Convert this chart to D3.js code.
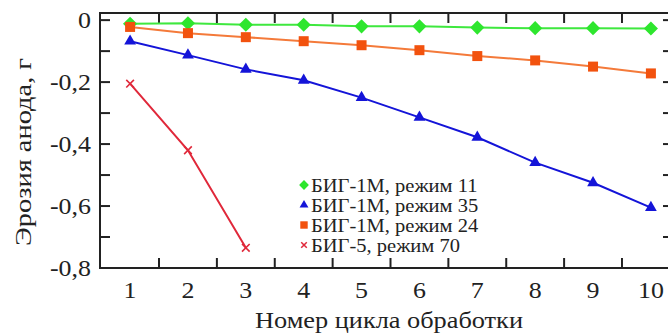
<!DOCTYPE html>
<html>
<head>
<meta charset="utf-8">
<script src="https://cdn.jsdelivr.net/npm/d3@7"></script>
<style>
  body { margin: 0; background: #fff; }
  svg { display: block; }
</style>
</head>
<body>
<svg id="chart"></svg>
<script>
// Данные графика
const cycles = [1, 2, 3, 4, 5, 6, 7, 8, 9, 10];
const mode11 = [-0.012, -0.01, -0.015, -0.015, -0.02, -0.02, -0.024, -0.026, -0.026, -0.027];
const mode35 = [-0.068, -0.113, -0.159, -0.194, -0.25, -0.314, -0.378, -0.46, -0.525, -0.605];
const mode24 = [-0.022, -0.042, -0.055, -0.068, -0.081, -0.097, -0.116, -0.13, -0.15, -0.172];
const mode70 = [-0.205, -0.42, -0.735];
const yTicks = [0, -0.2, -0.4, -0.6, -0.8];
const seriesNames = ["БИГ-1М, режим 11", "БИГ-1М, режим 35", "БИГ-1М, режим 24", "БИГ-5, режим 70"];

const width = 668, height = 335;
const margin = {top: 13, right: -2, bottom: 67, left: 100};

// ромб = повернутый квадрат
const series = [
  {name: seriesNames[0], values: mode11, color: "#2ee62e", line: "#3ee83e", shape: d3.symbolSquare, rot: 45, size: 100, lsize: 48},
  {name: seriesNames[1], values: mode35, color: "#1414d8", line: "#1414d8", shape: d3.symbolTriangle, rot: 0, size: 60, lsize: 34},
  {name: seriesNames[2], values: mode24, color: "#f2520e", line: "#f47a3a", shape: d3.symbolSquare, rot: 0, size: 100, lsize: 55},
  {name: seriesNames[3], values: mode70, color: "#e0283a", line: "#e0283a", shape: d3.symbolTimes, rot: 0, size: 40, lsize: 22}
];

const svg = d3.select("#chart")
  .attr("width", width)
  .attr("height", height)
  .style("font-family", "'Liberation Serif', 'Times New Roman', serif");

const x = d3.scaleLinear()
  .domain([0.48, 10.33])
  .range([margin.left, width - margin.right]);

const y = d3.scaleLinear()
  .domain([0.023, -0.8])
  .range([margin.top, height - margin.bottom]);

const axisColor = "#222";
const x0 = x.range()[0], x1 = x.range()[1];
const y0 = y.range()[0], y1 = y.range()[1];

// рамка
const frame = svg.append("g").attr("stroke", axisColor).attr("stroke-width", 2).attr("fill", "none");
frame.append("line").attr("x1", x0).attr("x2", x0).attr("y1", y0 - 1).attr("y2", y1 + 1);
frame.append("line").attr("x1", x0).attr("x2", x1).attr("y1", y1).attr("y2", y1);
frame.append("line").attr("x1", x0).attr("x2", x1).attr("y1", y0).attr("y2", y0);
frame.append("line").attr("x1", x1).attr("x2", x1).attr("y1", y0).attr("y2", y1);

// засечки по y (каждые 0,1)
const yMinor = d3.range(0, -0.81, -0.1);
frame.selectAll(".ty")
  .data(yMinor)
  .join("g")
  .call(g => g.append("line").attr("x1", x0).attr("x2", x0 + 10).attr("y1", d => y(d)).attr("y2", d => y(d)))
  .call(g => g.append("line").attr("x1", x1).attr("x2", x1 - 7).attr("y1", d => y(d)).attr("y2", d => y(d)));

// засечки по x между номерами циклов
const xBetween = cycles.slice(0, -1).map(c => c + 0.5);
frame.selectAll(".tx")
  .data(xBetween)
  .join("g")
  .call(g => g.append("line").attr("x1", d => x(d)).attr("x2", d => x(d)).attr("y1", y1).attr("y2", y1 - 10))
  .call(g => g.append("line").attr("x1", d => x(d)).attr("x2", d => x(d)).attr("y1", y0).attr("y2", y0 + 10));

// подписи осей
const fmt = d => d === 0 ? "0" : d3.format(".1f")(d).replace(".", ",").replace("\u2212", "-");
svg.append("g")
  .attr("font-size", 24)
  .attr("fill", "#222")
  .attr("text-anchor", "end")
  .selectAll("text")
  .data(yTicks)
  .join("text")
  .attr("transform", d => `translate(${x0 - 9},${y(d)}) scale(1.08,1)`)
  .attr("dy", "0.33em")
  .text(fmt);

svg.append("g")
  .attr("font-size", 24)
  .attr("fill", "#222")
  .attr("text-anchor", "middle")
  .selectAll("text")
  .data(cycles)
  .join("text")
  .attr("transform", d => `translate(${x(d)},${y1 + 30}) scale(1.08,1)`)
  .text(d => d);

svg.append("text")
  .attr("x", 389)
  .attr("y", 328)
  .attr("text-anchor", "middle")
  .attr("font-size", 24)
  .attr("fill", "#222")
  .attr("textLength", 268)
  .attr("lengthAdjust", "spacingAndGlyphs")
  .text("Номер цикла обработки");

svg.append("text")
  .attr("transform", `translate(31,152) rotate(-90)`)
  .attr("text-anchor", "middle")
  .attr("font-size", 24)
  .attr("fill", "#222")
  .attr("textLength", 188)
  .attr("lengthAdjust", "spacingAndGlyphs")
  .text("Эрозия анода, г");

// линии и маркеры
const line = d3.line()
  .x((d, i) => x(cycles[i]))
  .y(d => y(d));

const isCross = s => s.shape === d3.symbolTimes;

series.forEach(s => {
  svg.append("path")
    .datum(s.values)
    .attr("fill", "none")
    .attr("stroke", s.line)
    .attr("stroke-width", 2)
    .attr("d", line);

  const sym = d3.symbol().type(s.shape).size(s.size);
  svg.append("g")
    .selectAll("path")
    .data(s.values)
    .join("path")
    .attr("transform", (d, i) => `translate(${x(cycles[i])},${y(d)}) rotate(${s.rot})`)
    .attr("d", sym)
    .attr("fill", isCross(s) ? "none" : s.color)
    .attr("stroke", isCross(s) ? s.color : "none")
    .attr("stroke-width", 1.6);
});

// легенда
const legend = svg.append("g")
  .attr("transform", "translate(304,185)");

legend.selectAll("g")
  .data(series)
  .join("g")
  .attr("transform", (d, i) => `translate(0,${i * 20})`)
  .call(g => g.append("path")
    .attr("transform", d => `rotate(${d.rot})`)
    .attr("d", d => d3.symbol().type(d.shape).size(d.lsize)())
    .attr("fill", d => isCross(d) ? "none" : d.color)
    .attr("stroke", d => isCross(d) ? d.color : "none")
    .attr("stroke-width", 1.5))
  .call(g => g.append("text")
    .attr("transform", "translate(7,0) scale(1.08,1)")
    .attr("dy", "0.35em")
    .attr("font-size", 19)
    .attr("fill", "#222")
    .text(d => d.name));
</script>
</body>
</html>
